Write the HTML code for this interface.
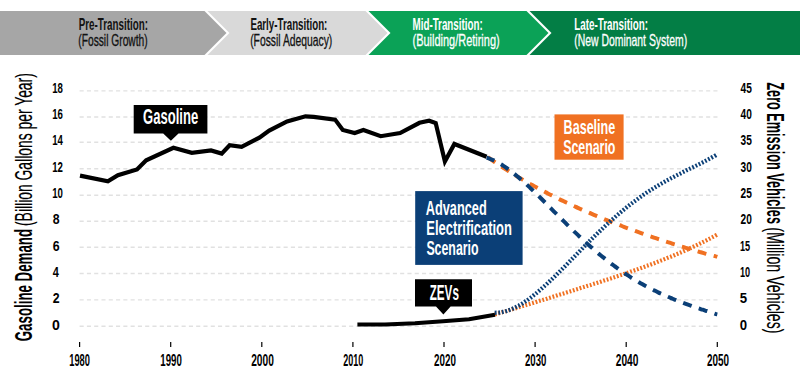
<!DOCTYPE html>
<html><head><meta charset="utf-8"><style>
html,body{margin:0;padding:0;background:#fff;width:800px;height:392px;overflow:hidden}
svg{display:block;font-family:"Liberation Sans",sans-serif}
</style></head><body>
<svg width="800" height="392" viewBox="0 0 800 392">
<polygon points="0,11 204.5,11 226.5,33 204.5,55 0,55" fill="#a6a6a6"/>
<polygon points="207.5,11 365.5,11 387.5,33 365.5,55 207.5,55 229.5,33" fill="#d9d9d9"/>
<polygon points="368.5,11 526.5,11 548.5,33 526.5,55 368.5,55 390.5,33" fill="#0ba257"/>
<polygon points="529.5,11 800,11 800,55 529.5,55 551.5,33" fill="#037e45"/>
<line x1="79.6" y1="326.2" x2="717.5" y2="326.2" stroke="#e1e1e1" stroke-width="1.4" stroke-dasharray="4.1 3.185"/>
<line x1="79.6" y1="299.9" x2="717.5" y2="299.9" stroke="#e1e1e1" stroke-width="1.4" stroke-dasharray="4.1 3.185"/>
<line x1="79.6" y1="273.5" x2="717.5" y2="273.5" stroke="#e1e1e1" stroke-width="1.4" stroke-dasharray="4.1 3.185"/>
<line x1="79.6" y1="247.3" x2="717.5" y2="247.3" stroke="#e1e1e1" stroke-width="1.4" stroke-dasharray="4.1 3.185"/>
<line x1="79.6" y1="221.2" x2="717.5" y2="221.2" stroke="#e1e1e1" stroke-width="1.4" stroke-dasharray="4.1 3.185"/>
<line x1="79.6" y1="195.2" x2="717.5" y2="195.2" stroke="#e1e1e1" stroke-width="1.4" stroke-dasharray="4.1 3.185"/>
<line x1="79.6" y1="168.7" x2="717.5" y2="168.7" stroke="#e1e1e1" stroke-width="1.4" stroke-dasharray="4.1 3.185"/>
<line x1="79.6" y1="142.3" x2="717.5" y2="142.3" stroke="#e1e1e1" stroke-width="1.4" stroke-dasharray="4.1 3.185"/>
<line x1="79.6" y1="117.0" x2="717.5" y2="117.0" stroke="#e1e1e1" stroke-width="1.4" stroke-dasharray="4.1 3.185"/>
<line x1="79.6" y1="90.9" x2="717.5" y2="90.9" stroke="#e1e1e1" stroke-width="1.4" stroke-dasharray="4.1 3.185"/>
<line x1="79.6" y1="342" x2="79.6" y2="347" stroke="#000" stroke-width="1.2"/>
<line x1="170.7" y1="342" x2="170.7" y2="347" stroke="#000" stroke-width="1.2"/>
<line x1="261.8" y1="342" x2="261.8" y2="347" stroke="#000" stroke-width="1.2"/>
<line x1="352.9" y1="342" x2="352.9" y2="347" stroke="#000" stroke-width="1.2"/>
<line x1="444.0" y1="342" x2="444.0" y2="347" stroke="#000" stroke-width="1.2"/>
<line x1="535.1" y1="342" x2="535.1" y2="347" stroke="#000" stroke-width="1.2"/>
<line x1="626.2" y1="342" x2="626.2" y2="347" stroke="#000" stroke-width="1.2"/>
<line x1="717.3" y1="342" x2="717.3" y2="347" stroke="#000" stroke-width="1.2"/>
<path d="M487.8 157.3 C488.5 157.7 490.5 159.1 491.8 160.0 C493.1 161.0 494.5 161.9 495.8 162.8 C497.1 163.7 498.5 164.6 499.8 165.4 C501.1 166.3 502.5 167.2 503.8 168.1 C505.1 168.9 506.5 169.8 507.8 170.6 C509.1 171.5 510.5 172.3 511.8 173.1 C513.1 173.9 514.5 174.7 515.8 175.6 C517.1 176.4 518.5 177.2 519.8 177.9 C521.1 178.7 522.5 179.5 523.8 180.3 C525.1 181.1 526.5 181.8 527.8 182.6 C529.1 183.3 530.5 184.1 531.8 184.8 C533.1 185.6 534.5 186.3 535.8 187.0 C537.1 187.8 538.5 188.5 539.8 189.2 C541.1 189.9 542.5 190.6 543.8 191.3 C545.1 192.0 546.5 192.7 547.8 193.4 C549.1 194.1 550.5 194.8 551.8 195.4 C553.1 196.1 554.5 196.8 555.8 197.4 C557.1 198.1 558.5 198.7 559.8 199.4 C561.1 200.0 562.5 200.7 563.8 201.3 C565.1 202.0 566.5 202.6 567.8 203.2 C569.1 203.8 570.5 204.5 571.8 205.1 C573.1 205.7 574.5 206.3 575.8 206.9 C577.1 207.5 578.5 208.1 579.8 208.7 C581.1 209.3 582.5 209.9 583.8 210.5 C585.1 211.1 586.5 211.6 587.8 212.2 C589.1 212.8 590.5 213.4 591.8 213.9 C593.1 214.5 594.5 215.1 595.8 215.6 C597.1 216.2 598.5 216.7 599.8 217.3 C601.1 217.8 602.5 218.4 603.8 218.9 C605.1 219.5 606.5 220.0 607.8 220.5 C609.1 221.1 610.5 221.6 611.8 222.1 C613.1 222.6 614.5 223.2 615.8 223.7 C617.1 224.2 618.5 224.7 619.8 225.2 C621.1 225.7 622.5 226.3 623.8 226.8 C625.1 227.3 626.5 227.8 627.8 228.3 C629.1 228.8 630.5 229.2 631.8 229.7 C633.1 230.2 634.5 230.7 635.8 231.2 C637.1 231.7 638.5 232.2 639.8 232.6 C641.1 233.1 642.5 233.6 643.8 234.1 C645.1 234.5 646.5 235.0 647.8 235.5 C649.1 235.9 650.5 236.4 651.8 236.8 C653.1 237.3 654.5 237.8 655.8 238.2 C657.1 238.7 658.5 239.1 659.8 239.5 C661.1 240.0 662.5 240.4 663.8 240.9 C665.1 241.3 666.5 241.7 667.8 242.2 C669.1 242.6 670.5 243.0 671.8 243.5 C673.1 243.9 674.5 244.3 675.8 244.7 C677.1 245.2 678.5 245.6 679.8 246.0 C681.1 246.4 682.5 246.8 683.8 247.2 C685.1 247.6 686.5 248.0 687.8 248.4 C689.1 248.8 690.5 249.2 691.8 249.6 C693.1 250.0 694.5 250.4 695.8 250.8 C697.1 251.2 698.5 251.6 699.8 252.0 C701.1 252.3 702.5 252.7 703.8 253.1 C705.1 253.5 706.5 253.9 707.8 254.2 C709.1 254.6 710.5 255.0 711.8 255.3 C713.1 255.7 714.9 256.1 715.8 256.4 C716.7 256.6 717.0 256.7 717.3 256.8" fill="none" stroke="#f07122" stroke-width="4" stroke-dasharray="9 7.5"/>
<path d="M494.8 314.5 C495.5 314.3 497.5 313.7 498.8 313.3 C500.1 312.9 501.5 312.5 502.8 312.1 C504.1 311.7 505.5 311.3 506.8 310.9 C508.1 310.5 509.5 310.1 510.8 309.7 C512.1 309.3 513.5 308.9 514.8 308.5 C516.1 308.1 517.5 307.7 518.8 307.3 C520.1 306.9 521.5 306.5 522.8 306.1 C524.1 305.7 525.5 305.2 526.8 304.8 C528.1 304.4 529.5 304.0 530.8 303.6 C532.1 303.2 533.5 302.8 534.8 302.4 C536.1 302.0 537.5 301.5 538.8 301.1 C540.1 300.7 541.5 300.3 542.8 299.9 C544.1 299.5 545.5 299.1 546.8 298.7 C548.1 298.2 549.5 297.8 550.8 297.4 C552.1 297.0 553.5 296.6 554.8 296.2 C556.1 295.8 557.5 295.3 558.8 294.9 C560.1 294.5 561.5 294.1 562.8 293.7 C564.1 293.3 565.5 292.9 566.8 292.4 C568.1 292.0 569.5 291.6 570.8 291.2 C572.1 290.8 573.5 290.3 574.8 289.9 C576.1 289.5 577.5 289.1 578.8 288.7 C580.1 288.2 581.5 287.8 582.8 287.4 C584.1 287.0 585.5 286.6 586.8 286.1 C588.1 285.7 589.5 285.3 590.8 284.9 C592.1 284.4 593.5 284.0 594.8 283.6 C596.1 283.2 597.5 282.7 598.8 282.3 C600.1 281.9 601.5 281.4 602.8 281.0 C604.1 280.6 605.5 280.1 606.8 279.7 C608.1 279.3 609.5 278.8 610.8 278.4 C612.1 277.9 613.5 277.5 614.8 277.1 C616.1 276.6 617.5 276.2 618.8 275.7 C620.1 275.3 621.5 274.8 622.8 274.4 C624.1 273.9 625.5 273.5 626.8 273.0 C628.1 272.6 629.5 272.1 630.8 271.6 C632.1 271.2 633.5 270.7 634.8 270.2 C636.1 269.8 637.5 269.3 638.8 268.8 C640.1 268.4 641.5 267.9 642.8 267.4 C644.1 266.9 645.5 266.4 646.8 265.9 C648.1 265.5 649.5 265.0 650.8 264.5 C652.1 264.0 653.5 263.5 654.8 263.0 C656.1 262.5 657.5 261.9 658.8 261.4 C660.1 260.9 661.5 260.4 662.8 259.9 C664.1 259.3 665.5 258.8 666.8 258.3 C668.1 257.7 669.5 257.2 670.8 256.7 C672.1 256.1 673.5 255.6 674.8 255.0 C676.1 254.4 677.5 253.9 678.8 253.3 C680.1 252.7 681.5 252.2 682.8 251.6 C684.1 251.0 685.5 250.4 686.8 249.8 C688.1 249.2 689.5 248.6 690.8 248.0 C692.1 247.4 693.5 246.7 694.8 246.1 C696.1 245.5 697.5 244.8 698.8 244.2 C700.1 243.5 701.5 242.9 702.8 242.2 C704.1 241.5 705.5 240.9 706.8 240.2 C708.1 239.5 709.5 238.8 710.8 238.1 C712.1 237.4 713.6 236.6 714.8 236.0 C716.0 235.3 717.3 234.6 717.8 234.3" fill="none" stroke="#f07122" stroke-width="4.2" stroke-dasharray="1.8 1.75"/>
<path d="M486.6 157.7 C487.3 157.9 489.3 158.5 490.6 159.1 C491.9 159.6 493.3 160.2 494.6 160.8 C495.9 161.5 497.3 162.2 498.6 162.9 C499.9 163.7 501.3 164.5 502.6 165.3 C503.9 166.2 505.3 167.1 506.6 168.0 C507.9 168.9 509.3 169.9 510.6 170.9 C511.9 171.9 513.3 173.0 514.6 174.1 C515.9 175.2 517.3 176.3 518.6 177.4 C519.9 178.5 521.3 179.7 522.6 180.9 C523.9 182.1 525.3 183.3 526.6 184.5 C527.9 185.8 529.3 187.0 530.6 188.3 C531.9 189.5 533.3 190.8 534.6 192.1 C535.9 193.4 537.3 194.7 538.6 196.0 C539.9 197.3 541.3 198.7 542.6 200.0 C543.9 201.3 545.3 202.7 546.6 204.0 C547.9 205.3 549.3 206.7 550.6 208.0 C551.9 209.4 553.3 210.7 554.6 212.1 C555.9 213.4 557.3 214.7 558.6 216.1 C559.9 217.4 561.3 218.8 562.6 220.1 C563.9 221.4 565.3 222.7 566.6 224.1 C567.9 225.4 569.3 226.7 570.6 228.0 C571.9 229.3 573.3 230.6 574.6 231.9 C575.9 233.1 577.3 234.4 578.6 235.7 C579.9 236.9 581.3 238.2 582.6 239.4 C583.9 240.6 585.3 241.9 586.6 243.1 C587.9 244.3 589.3 245.5 590.6 246.7 C591.9 247.8 593.3 249.0 594.6 250.2 C595.9 251.3 597.3 252.4 598.6 253.6 C599.9 254.7 601.3 255.8 602.6 256.9 C603.9 257.9 605.3 259.0 606.6 260.1 C607.9 261.1 609.3 262.2 610.6 263.2 C611.9 264.2 613.3 265.2 614.6 266.2 C615.9 267.2 617.3 268.1 618.6 269.1 C619.9 270.0 621.3 271.0 622.6 271.9 C623.9 272.8 625.3 273.7 626.6 274.6 C627.9 275.4 629.3 276.3 630.6 277.2 C631.9 278.0 633.3 278.8 634.6 279.6 C635.9 280.5 637.3 281.2 638.6 282.0 C639.9 282.8 641.3 283.6 642.6 284.3 C643.9 285.1 645.3 285.8 646.6 286.5 C647.9 287.2 649.3 287.9 650.6 288.6 C651.9 289.3 653.3 290.0 654.6 290.6 C655.9 291.3 657.3 292.0 658.6 292.6 C659.9 293.2 661.3 293.8 662.6 294.4 C663.9 295.1 665.3 295.6 666.6 296.2 C667.9 296.8 669.3 297.4 670.6 297.9 C671.9 298.5 673.3 299.0 674.6 299.6 C675.9 300.1 677.3 300.7 678.6 301.2 C679.9 301.7 681.3 302.2 682.6 302.7 C683.9 303.2 685.3 303.7 686.6 304.2 C687.9 304.7 689.3 305.2 690.6 305.6 C691.9 306.1 693.3 306.6 694.6 307.0 C695.9 307.5 697.3 307.9 698.6 308.4 C699.9 308.8 701.3 309.3 702.6 309.7 C703.9 310.1 705.3 310.6 706.6 311.0 C707.9 311.4 709.3 311.9 710.6 312.3 C711.9 312.7 713.5 313.2 714.6 313.6 C715.7 313.9 716.8 314.3 717.3 314.4" fill="none" stroke="#0b3f77" stroke-width="4" stroke-dasharray="9 7.5" stroke-dashoffset="0.7"/>
<path d="M494.8 312.8 C495.5 312.7 497.5 312.7 498.8 312.6 C500.1 312.4 501.5 312.2 502.8 311.9 C504.1 311.7 505.5 311.3 506.8 310.9 C508.1 310.5 509.5 310.0 510.8 309.5 C512.1 308.9 513.5 308.3 514.8 307.7 C516.1 307.0 517.5 306.3 518.8 305.6 C520.1 304.8 521.5 304.0 522.8 303.2 C524.1 302.3 525.5 301.4 526.8 300.5 C528.1 299.6 529.5 298.6 530.8 297.6 C532.1 296.6 533.5 295.5 534.8 294.4 C536.1 293.4 537.5 292.3 538.8 291.1 C540.1 290.0 541.5 288.8 542.8 287.6 C544.1 286.4 545.5 285.2 546.8 284.0 C548.1 282.8 549.5 281.5 550.8 280.2 C552.1 279.0 553.5 277.7 554.8 276.4 C556.1 275.1 557.5 273.8 558.8 272.4 C560.1 271.1 561.5 269.8 562.8 268.4 C564.1 267.1 565.5 265.7 566.8 264.4 C568.1 263.0 569.5 261.6 570.8 260.3 C572.1 258.9 573.5 257.5 574.8 256.2 C576.1 254.8 577.5 253.4 578.8 252.1 C580.1 250.7 581.5 249.3 582.8 248.0 C584.1 246.6 585.5 245.3 586.8 243.9 C588.1 242.6 589.5 241.3 590.8 239.9 C592.1 238.6 593.5 237.3 594.8 236.0 C596.1 234.7 597.5 233.4 598.8 232.1 C600.1 230.8 601.5 229.5 602.8 228.3 C604.1 227.0 605.5 225.7 606.8 224.5 C608.1 223.3 609.5 222.1 610.8 220.9 C612.1 219.7 613.5 218.5 614.8 217.3 C616.1 216.1 617.5 215.0 618.8 213.8 C620.1 212.7 621.5 211.6 622.8 210.5 C624.1 209.4 625.5 208.3 626.8 207.2 C628.1 206.2 629.5 205.1 630.8 204.1 C632.1 203.1 633.5 202.1 634.8 201.1 C636.1 200.1 637.5 199.1 638.8 198.1 C640.1 197.2 641.5 196.2 642.8 195.3 C644.1 194.4 645.5 193.5 646.8 192.6 C648.1 191.7 649.5 190.9 650.8 190.0 C652.1 189.2 653.5 188.3 654.8 187.5 C656.1 186.7 657.5 185.9 658.8 185.1 C660.1 184.3 661.5 183.5 662.8 182.8 C664.1 182.0 665.5 181.3 666.8 180.5 C668.1 179.8 669.5 179.1 670.8 178.4 C672.1 177.7 673.5 177.0 674.8 176.3 C676.1 175.6 677.5 174.9 678.8 174.2 C680.1 173.6 681.5 172.9 682.8 172.2 C684.1 171.6 685.5 170.9 686.8 170.2 C688.1 169.6 689.5 168.9 690.8 168.3 C692.1 167.6 693.5 167.0 694.8 166.3 C696.1 165.6 697.5 165.0 698.8 164.3 C700.1 163.6 701.5 163.0 702.8 162.3 C704.1 161.6 705.5 160.9 706.8 160.2 C708.1 159.5 709.5 158.8 710.8 158.1 C712.1 157.3 713.7 156.5 714.8 155.8 C715.9 155.2 717.0 154.5 717.5 154.3" fill="none" stroke="#0b3f77" stroke-width="4.2" stroke-dasharray="1.8 1.75"/>
<polyline points="80.0,175.6 107.9,181.3 117.9,175.2 137.0,169.5 146.2,160.3 173.4,147.8 191.8,152.8 211.0,150.5 221.7,153.6 229.6,145.2 241.6,146.8 259.4,137.6 269.2,130.6 287.1,121.5 305.5,116.3 313.7,116.8 335.1,119.6 342.8,130.0 354.7,133.0 363.4,130.0 380.7,136.2 400.1,133.0 419.5,122.8 429.1,120.7 435.7,123.0 444.9,161.5 454.4,144.0 486.6,156.7" fill="none" stroke="#000" stroke-width="4.2" stroke-linejoin="miter"/>
<polyline points="357.4,324.6 385.0,324.4 415.0,323.2 443.0,321.3 469.0,319.2 495.0,314.8" fill="none" stroke="#000" stroke-width="4" stroke-linejoin="round"/>
<polygon points="133.7,105.1 207.4,105.1 207.4,133.4 178.5,133.4 170.9,140.7 163.2,133.4 133.7,133.4" fill="#000"/>
<polygon points="415,279.2 472,279.2 472,306.6 450.6,306.6 443.4,314.4 436,306.6 415,306.6" fill="#000"/>
<rect x="554.5" y="114.4" width="69.1" height="45.3" fill="#f07122"/>
<rect x="415.2" y="191.1" width="107.4" height="73.8" fill="#0b3f77"/>
<text x="78.78" y="30.10" font-size="15.84" font-weight="bold" fill="#111" textLength="69.17" lengthAdjust="spacingAndGlyphs">Pre-Transition:</text>
<text x="78.27" y="45.50" font-size="16.28" font-weight="normal" fill="#111" textLength="69.43" lengthAdjust="spacingAndGlyphs" stroke="#111" stroke-width="0.30">(Fossil Growth)</text>
<text x="250.38" y="30.10" font-size="15.84" font-weight="bold" fill="#111" textLength="76.99" lengthAdjust="spacingAndGlyphs">Early-Transition:</text>
<text x="250.16" y="45.50" font-size="16.28" font-weight="normal" fill="#111" textLength="82.15" lengthAdjust="spacingAndGlyphs" stroke="#111" stroke-width="0.30">(Fossil Adequacy)</text>
<text x="412.58" y="30.10" font-size="15.84" font-weight="bold" fill="#fff" textLength="70.11" lengthAdjust="spacingAndGlyphs">Mid-Transition:</text>
<text x="412.53" y="45.50" font-size="16.28" font-weight="normal" fill="#fff" textLength="87.14" lengthAdjust="spacingAndGlyphs" stroke="#fff" stroke-width="0.30">(Building/Retiring)</text>
<text x="574.28" y="30.10" font-size="15.84" font-weight="bold" fill="#fff" textLength="73.79" lengthAdjust="spacingAndGlyphs">Late-Transition:</text>
<text x="574.26" y="45.50" font-size="16.28" font-weight="normal" fill="#fff" textLength="112.85" lengthAdjust="spacingAndGlyphs" stroke="#fff" stroke-width="0.30">(New Dominant System)</text>
<g transform="translate(32.10,0) rotate(-90)"><text x="-341.27" y="0.00" font-size="23.26" font-weight="bold" fill="#000" textLength="112.37" lengthAdjust="spacingAndGlyphs">Gasoline Demand</text></g>
<g transform="translate(32.10,0) rotate(-90)"><text x="-226.00" y="0.00" font-size="23.26" font-weight="normal" fill="#000" textLength="152.83" lengthAdjust="spacingAndGlyphs" stroke="#000" stroke-width="0.15">(Billion Gallons per Year)</text></g>
<g transform="translate(767.10,0) rotate(90)"><text x="82.35" y="0.00" font-size="23.11" font-weight="bold" fill="#000" textLength="141.59" lengthAdjust="spacingAndGlyphs">Zero Emission Vehicles</text></g>
<g transform="translate(767.10,0) rotate(90)"><text x="227.29" y="0.00" font-size="23.11" font-weight="normal" fill="#000" textLength="106.27" lengthAdjust="spacingAndGlyphs" stroke="#000" stroke-width="0.15">(Million Vehicles)</text></g>
<text x="143.10" y="124.40" font-size="21.80" font-weight="bold" fill="#fff" textLength="55.04" lengthAdjust="spacingAndGlyphs">Gasoline</text>
<text x="429.67" y="299.80" font-size="22.09" font-weight="bold" fill="#fff" textLength="29.25" lengthAdjust="spacingAndGlyphs">ZEVs</text>
<text x="563.57" y="134.00" font-size="20.06" font-weight="bold" fill="#fff" textLength="51.72" lengthAdjust="spacingAndGlyphs">Baseline</text>
<text x="563.18" y="154.20" font-size="20.06" font-weight="bold" fill="#fff" textLength="52.24" lengthAdjust="spacingAndGlyphs">Scenario</text>
<text x="425.67" y="214.60" font-size="20.35" font-weight="bold" fill="#fff" textLength="61.10" lengthAdjust="spacingAndGlyphs">Advanced</text>
<text x="426.36" y="234.80" font-size="20.35" font-weight="bold" fill="#fff" textLength="85.51" lengthAdjust="spacingAndGlyphs">Electrification</text>
<text x="426.39" y="255.00" font-size="20.35" font-weight="bold" fill="#fff" textLength="52.18" lengthAdjust="spacingAndGlyphs">Scenario</text>
<text x="69.21" y="365.80" font-size="15.70" font-weight="bold" fill="#000" textLength="20.74" lengthAdjust="spacingAndGlyphs">1980</text>
<text x="160.28" y="365.80" font-size="15.70" font-weight="bold" fill="#000" textLength="21.56" lengthAdjust="spacingAndGlyphs">1990</text>
<text x="251.20" y="365.80" font-size="15.70" font-weight="bold" fill="#000" textLength="22.64" lengthAdjust="spacingAndGlyphs">2000</text>
<text x="343.30" y="365.80" font-size="15.70" font-weight="bold" fill="#000" textLength="20.05" lengthAdjust="spacingAndGlyphs">2010</text>
<text x="434.00" y="365.80" font-size="15.70" font-weight="bold" fill="#000" textLength="21.84" lengthAdjust="spacingAndGlyphs">2020</text>
<text x="525.00" y="365.80" font-size="15.70" font-weight="bold" fill="#000" textLength="21.34" lengthAdjust="spacingAndGlyphs">2030</text>
<text x="615.80" y="365.80" font-size="15.70" font-weight="bold" fill="#000" textLength="22.64" lengthAdjust="spacingAndGlyphs">2040</text>
<text x="707.10" y="365.80" font-size="15.70" font-weight="bold" fill="#000" textLength="22.04" lengthAdjust="spacingAndGlyphs">2050</text>
<text x="51.89" y="329.60" font-size="15.41" font-weight="bold" fill="#000" textLength="7.84" lengthAdjust="spacingAndGlyphs">0</text>
<text x="739.64" y="329.60" font-size="15.41" font-weight="bold" fill="#000" textLength="7.35" lengthAdjust="spacingAndGlyphs">0</text>
<text x="52.80" y="303.27" font-size="15.41" font-weight="bold" fill="#000" textLength="6.86" lengthAdjust="spacingAndGlyphs">2</text>
<text x="739.64" y="303.27" font-size="15.41" font-weight="bold" fill="#000" textLength="7.35" lengthAdjust="spacingAndGlyphs">5</text>
<text x="52.80" y="276.94" font-size="15.41" font-weight="bold" fill="#000" textLength="6.10" lengthAdjust="spacingAndGlyphs">4</text>
<text x="739.91" y="276.94" font-size="15.41" font-weight="bold" fill="#000" textLength="10.18" lengthAdjust="spacingAndGlyphs">10</text>
<text x="52.80" y="250.61" font-size="15.41" font-weight="bold" fill="#000" textLength="6.86" lengthAdjust="spacingAndGlyphs">6</text>
<text x="739.91" y="250.61" font-size="15.41" font-weight="bold" fill="#000" textLength="10.18" lengthAdjust="spacingAndGlyphs">15</text>
<text x="52.80" y="224.28" font-size="15.41" font-weight="bold" fill="#000" textLength="6.86" lengthAdjust="spacingAndGlyphs">8</text>
<text x="740.50" y="224.28" font-size="15.41" font-weight="bold" fill="#000" textLength="11.29" lengthAdjust="spacingAndGlyphs">20</text>
<text x="52.17" y="197.95" font-size="15.41" font-weight="bold" fill="#000" textLength="10.71" lengthAdjust="spacingAndGlyphs">10</text>
<text x="740.50" y="197.95" font-size="15.41" font-weight="bold" fill="#000" textLength="11.29" lengthAdjust="spacingAndGlyphs">25</text>
<text x="52.17" y="171.62" font-size="15.41" font-weight="bold" fill="#000" textLength="10.71" lengthAdjust="spacingAndGlyphs">12</text>
<text x="740.50" y="171.62" font-size="15.41" font-weight="bold" fill="#000" textLength="11.29" lengthAdjust="spacingAndGlyphs">30</text>
<text x="52.17" y="145.29" font-size="15.41" font-weight="bold" fill="#000" textLength="10.71" lengthAdjust="spacingAndGlyphs">14</text>
<text x="740.50" y="145.29" font-size="15.41" font-weight="bold" fill="#000" textLength="11.29" lengthAdjust="spacingAndGlyphs">35</text>
<text x="52.17" y="118.96" font-size="15.41" font-weight="bold" fill="#000" textLength="10.71" lengthAdjust="spacingAndGlyphs">16</text>
<text x="740.50" y="118.96" font-size="15.41" font-weight="bold" fill="#000" textLength="11.29" lengthAdjust="spacingAndGlyphs">40</text>
<text x="52.17" y="92.63" font-size="15.41" font-weight="bold" fill="#000" textLength="10.71" lengthAdjust="spacingAndGlyphs">18</text>
<text x="740.50" y="92.63" font-size="15.41" font-weight="bold" fill="#000" textLength="11.29" lengthAdjust="spacingAndGlyphs">45</text>
</svg>
</body></html>
